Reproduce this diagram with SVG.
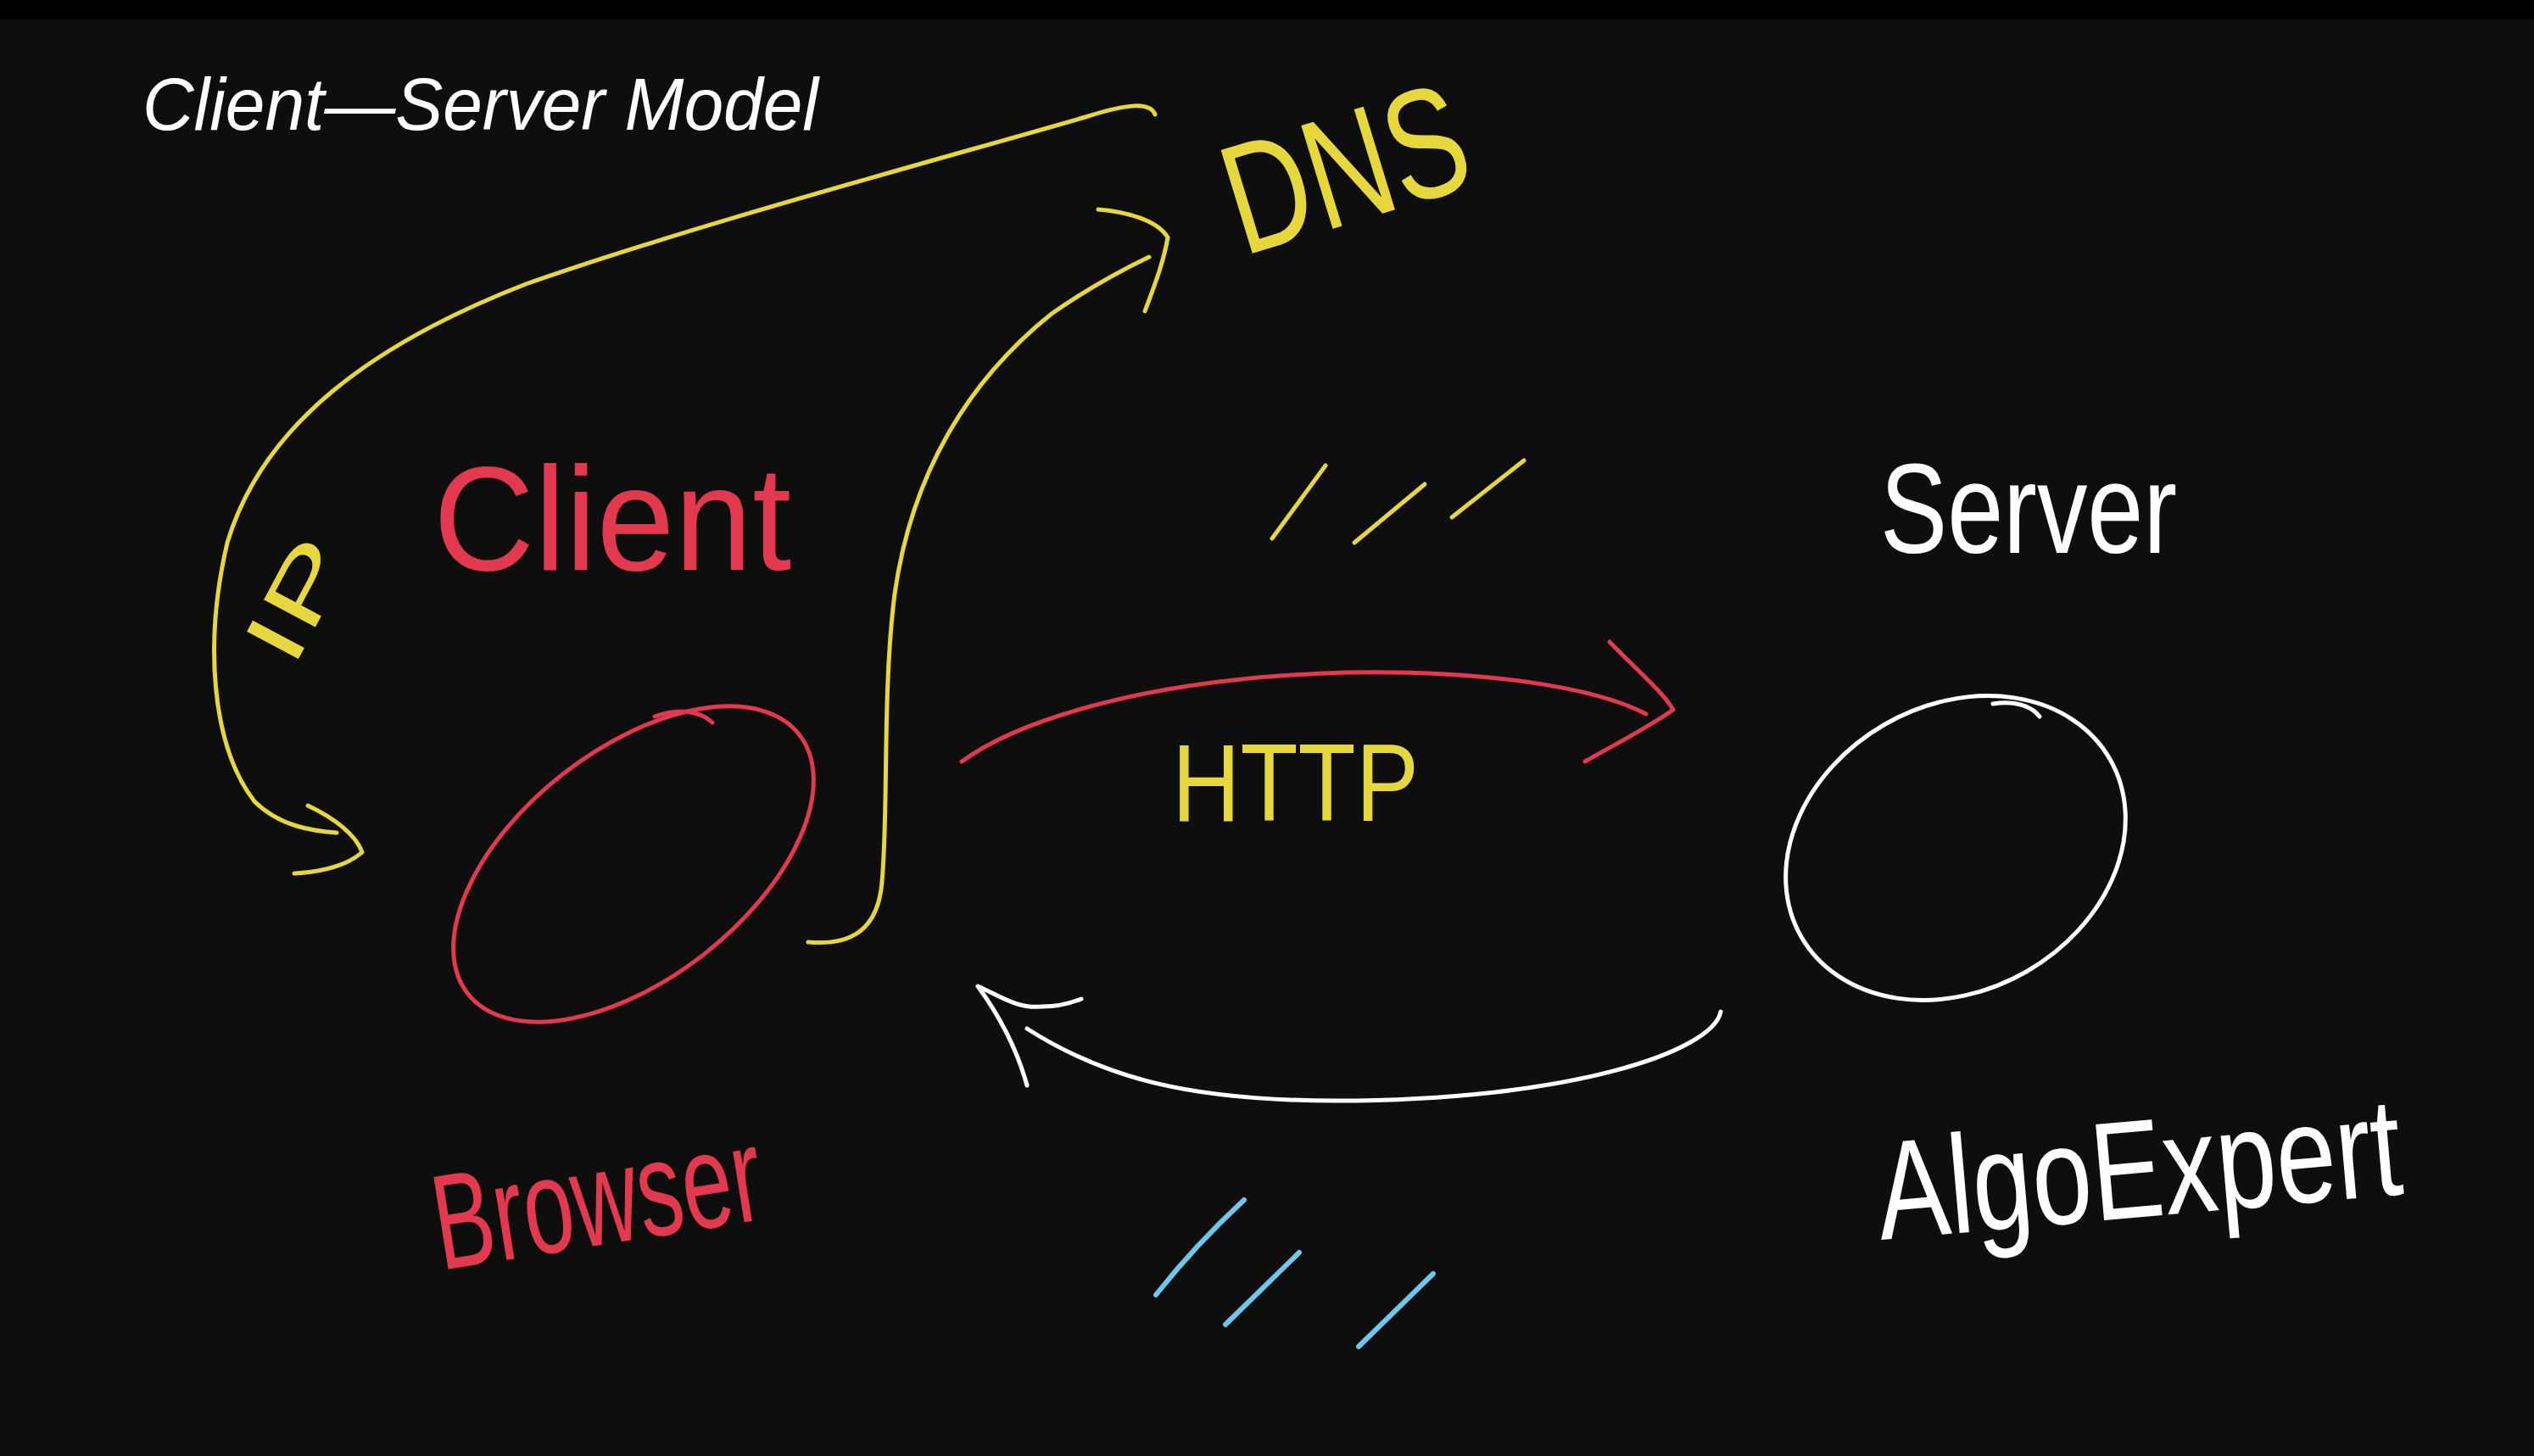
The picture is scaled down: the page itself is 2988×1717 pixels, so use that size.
<svg xmlns="http://www.w3.org/2000/svg" width="2988" height="1717" viewBox="0 0 2988 1717">
<style>
.y{stroke:#e6d83c;fill:none;stroke-width:5;stroke-linecap:round;stroke-linejoin:round}
.r{stroke:#e2394f;fill:none;stroke-width:5;stroke-linecap:round;stroke-linejoin:round}
.w{stroke:#ffffff;fill:none;stroke-width:5;stroke-linecap:round;stroke-linejoin:round}
.b{stroke:#6ec6ea;fill:none;stroke-width:6;stroke-linecap:round}
.hand{font-family:"Liberation Sans","DejaVu Sans",sans-serif;font-weight:normal}
.ty{fill:#e6d83c}.tr{fill:#e2394f}.tw{fill:#ffffff}
</style>
<rect x="0" y="0" width="2988" height="1717" fill="#0e0e0e"/>
<rect x="0" y="0" width="2988" height="23" fill="#000000"/>

<g id="title">
<text x="168" y="153" font-family="Liberation Sans, Arial, sans-serif" font-style="italic" font-size="88" fill="#ffffff" textLength="797" lengthAdjust="spacingAndGlyphs">Client—Server Model</text>
</g>

<g id="dns">
<text class="hand ty" transform="translate(1466,302) rotate(-17)" font-size="185" textLength="290" lengthAdjust="spacingAndGlyphs">DNS</text>
</g>

<g id="client">
<ellipse class="r" cx="747" cy="1019" rx="248" ry="135" transform="rotate(-38 747 1019)"/>
<path class="r" d="M772,845 C800,835 825,838 840,852"/>
<text class="hand tr" x="511" y="672" font-size="175" textLength="422" lengthAdjust="spacingAndGlyphs">Client</text>
</g>

<g id="browser">
<text class="hand tr" transform="translate(520,1498) rotate(-9)" font-size="160" textLength="390" lengthAdjust="spacingAndGlyphs">Browser</text>
</g>

<g id="server">
<ellipse class="w" cx="2306" cy="1000" rx="210" ry="168" transform="rotate(-30 2306 1000)"/>
<path class="w" d="M2350,830 C2375,826 2395,832 2405,845"/>
<text class="hand tw" x="2217" y="652" font-size="150" textLength="350" lengthAdjust="spacingAndGlyphs">Server</text>
</g>

<g id="algoexpert">
<text class="hand tw" transform="translate(2218,1462) rotate(-5)" font-size="165" textLength="620" lengthAdjust="spacingAndGlyphs">AlgoExpert</text>
</g>

<g id="connectors">
<path class="y" d="M1362,135 C1356,120 1330,122 1280,138 C1100,190 820,265 620,335 C440,405 310,500 268,640 C240,760 250,880 300,945 C330,975 370,980 397,982"/>
<path class="y" d="M363,950 C395,965 420,985 427,1005 C410,1020 380,1028 347,1030"/>
<path class="y" d="M953,1111 C1000,1115 1035,1100 1040,1040 C1048,950 1040,820 1055,700 C1075,560 1140,450 1240,370 C1290,335 1330,315 1355,303"/>
<path class="y" d="M1295,247 C1330,250 1365,260 1377,280 C1372,310 1360,340 1350,367"/>
<path class="r" d="M1134,898 C1200,850 1350,800 1588,793 C1750,790 1880,810 1941,842"/>
<path class="r" d="M1898,757 C1930,790 1960,815 1973,837 C1940,860 1900,880 1869,898"/>
<path class="w" d="M2029,1193 C2020,1240 1850,1298 1575,1298 C1400,1298 1300,1270 1211,1213"/>
<path class="w" d="M1211,1280 C1200,1240 1180,1200 1153,1163 C1180,1175 1200,1190 1229,1187 C1250,1187 1265,1182 1275,1178"/>
<text class="hand ty" transform="translate(345,790) rotate(-62)" font-size="100" textLength="150" lengthAdjust="spacingAndGlyphs">IP</text>
<text class="hand ty" x="1382" y="968" font-size="130" textLength="291" lengthAdjust="spacingAndGlyphs">HTTP</text>
</g>

<g id="marks-yellow">
<path class="y" d="M1500,635 L1563,549"/>
<path class="y" d="M1597,640 L1680,571"/>
<path class="y" d="M1712,610 L1797,543"/>
</g>
<g id="marks-blue">
<path class="b" d="M1363,1527 C1400,1480 1440,1440 1467,1415"/>
<path class="b" d="M1445,1562 L1532,1477"/>
<path class="b" d="M1602,1588 L1690,1502"/>
</g>
</svg>
